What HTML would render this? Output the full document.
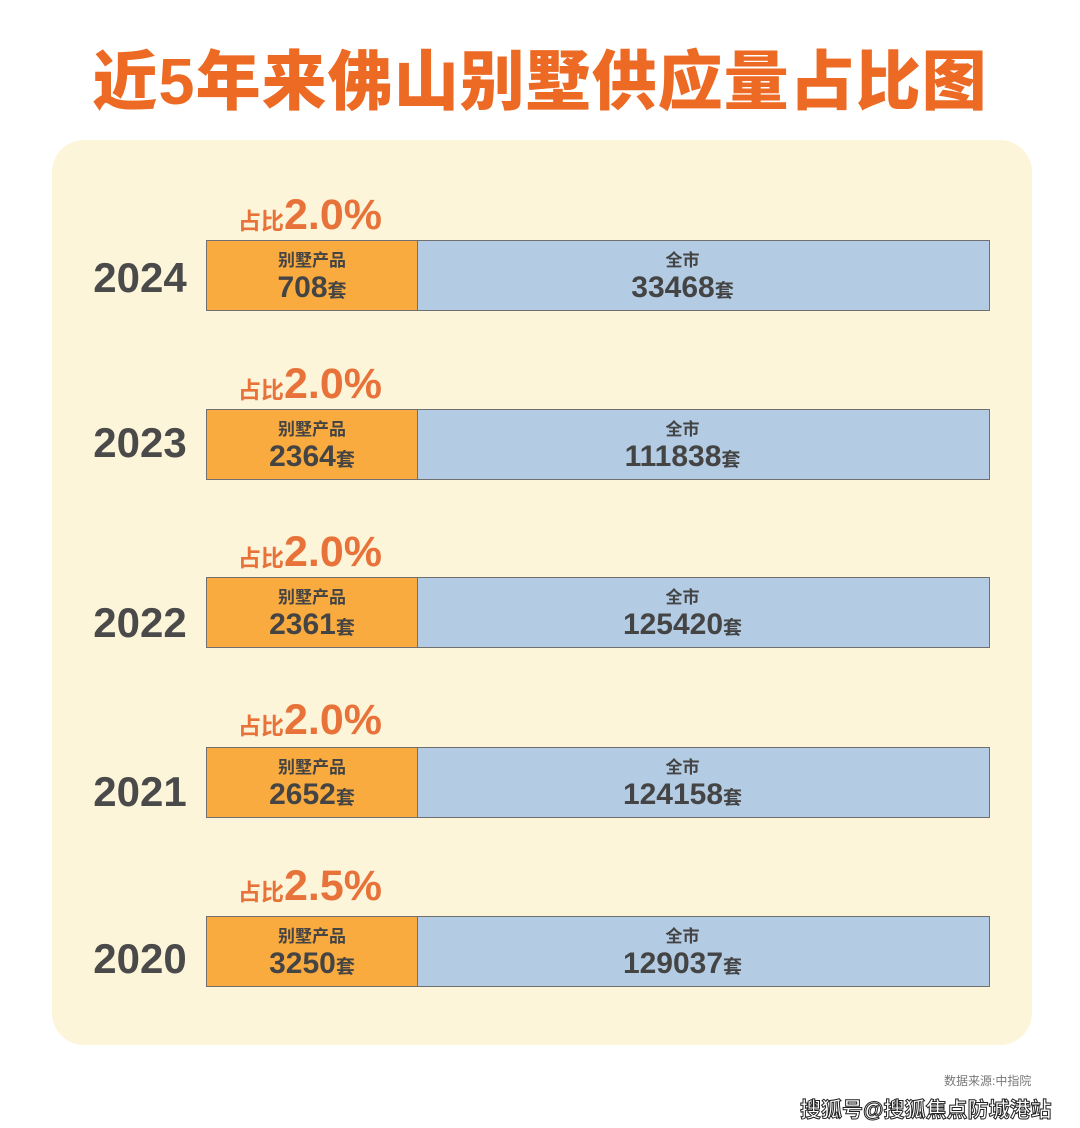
<!DOCTYPE html>
<html><head><meta charset="utf-8"><style>
body{margin:0;width:1080px;height:1128px;background:#fff;position:relative;overflow:hidden;font-family:"Liberation Sans","Noto Sans CJK SC",sans-serif;}
.t{position:absolute;left:0;width:1080px;top:42px;text-align:center;font-size:65px;font-weight:900;color:#ec6a24;letter-spacing:1px;line-height:80px;}
.panel{position:absolute;left:52px;top:140px;width:980px;height:905px;background:#fdf5d9;border-radius:32px;}
.y{position:absolute;left:80px;width:120px;text-align:center;font-size:42px;font-weight:bold;color:#4a4a4a;line-height:50px;}
.p{position:absolute;left:238px;font-size:23px;font-weight:bold;color:#e8733a;line-height:40px;}
.p b{font-size:43px;}
.bar{position:absolute;left:206px;width:784px;height:71px;border:1px solid #707070;box-sizing:border-box;display:flex;}
.o{width:210px;background:#f9ab3f;border-right:1px solid #707070;}
.b{flex:1;background:#b3cce4;padding-right:42px;}
.o,.b{text-align:center;color:#444;}
.l{font-size:17px;font-weight:bold;margin-top:10px;line-height:20px;}
.n{font-size:30px;font-weight:bold;line-height:34px;}
.n span{font-size:19px;}
.src{position:absolute;left:944px;top:1072px;font-size:12px;color:#777;}
.wm{position:absolute;left:800px;top:1094px;font-size:21px;color:#fff;font-weight:bold;-webkit-text-stroke:1px #222;}
</style></head><body>
<div class="t">近5年来佛山别墅供应量占比图</div>
<div class="panel"></div>

<div class="p" style="top:195px">占比<b>2.0%</b></div>
<div class="y" style="top:253px">2024</div>
<div class="bar" style="top:240px"><div class="o"><div class="l">别墅产品</div><div class="n">708<span>套</span></div></div><div class="b"><div class="l">全市</div><div class="n">33468<span>套</span></div></div></div>

<div class="p" style="top:364px">占比<b>2.0%</b></div>
<div class="y" style="top:418px">2023</div>
<div class="bar" style="top:409px"><div class="o"><div class="l">别墅产品</div><div class="n">2364<span>套</span></div></div><div class="b"><div class="l">全市</div><div class="n">111838<span>套</span></div></div></div>

<div class="p" style="top:532px">占比<b>2.0%</b></div>
<div class="y" style="top:598px">2022</div>
<div class="bar" style="top:577px"><div class="o"><div class="l">别墅产品</div><div class="n">2361<span>套</span></div></div><div class="b"><div class="l">全市</div><div class="n">125420<span>套</span></div></div></div>

<div class="p" style="top:700px">占比<b>2.0%</b></div>
<div class="y" style="top:767px">2021</div>
<div class="bar" style="top:747px"><div class="o"><div class="l">别墅产品</div><div class="n">2652<span>套</span></div></div><div class="b"><div class="l">全市</div><div class="n">124158<span>套</span></div></div></div>

<div class="p" style="top:866px">占比<b>2.5%</b></div>
<div class="y" style="top:934px">2020</div>
<div class="bar" style="top:916px"><div class="o"><div class="l">别墅产品</div><div class="n">3250<span>套</span></div></div><div class="b"><div class="l">全市</div><div class="n">129037<span>套</span></div></div></div>

<div class="src">数据来源:中指院</div>
<div class="wm">搜狐号@搜狐焦点防城港站</div>
</body></html>
